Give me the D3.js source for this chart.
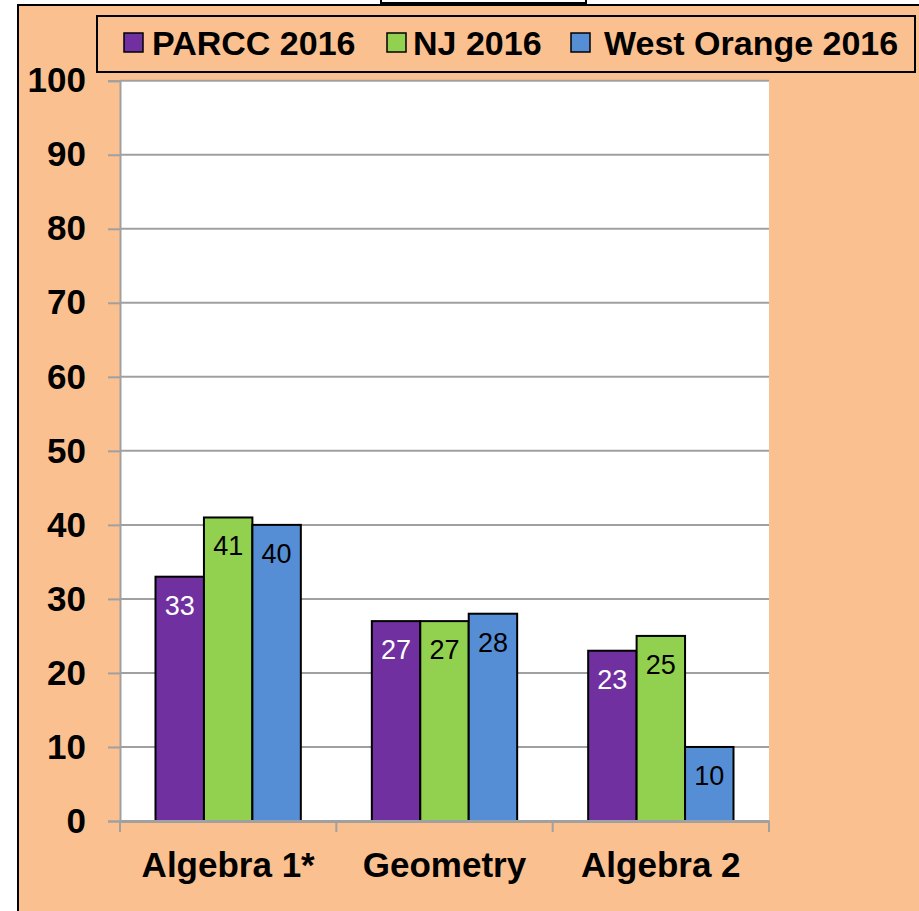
<!DOCTYPE html>
<html>
<head>
<meta charset="utf-8">
<script src="https://cdn.jsdelivr.net/npm/d3@7"></script>
<style>
  body { margin: 0; background: #fff; }
  svg text { font-family: "Liberation Sans", Arial, sans-serif; }
</style>
</head>
<body>
<svg id="chart" width="919" height="911"></svg>
<script>
// chart values
var categories = ["Algebra 1*", "Geometry", "Algebra 2"];
var seriesNames = ["PARCC 2016", "NJ 2016", "West Orange 2016"];
var parcc = [33, 27, 23];
var nj = [41, 27, 25];
var westOrange = [40, 28, 10];
var yTicks = [0, 10, 20, 30, 40, 50, 60, 70, 80, 90, 100];

var colours = ["#7030A0", "#92D050", "#558ED5"];
var labelColours = ["#fff", "#000", "#000"];
var bg = "#FAC090";

var svg = d3.select("#chart"),
    plot = {left: 120, right: 769, top: 80.7, bottom: 821};

var seriesValues = [parcc, nj, westOrange];
var data = categories.map(function(c, i) {
  return {
    cat: c,
    values: seriesNames.map(function(s, j) {
      return {series: s, idx: j, value: seriesValues[j][i]};
    })
  };
});

var x = d3.scaleBand().domain(categories).range([plot.left, plot.right]),
    xs = d3.scaleBand().domain(seriesNames)
      .range([35.5, x.bandwidth() - 35.5]),
    y = d3.scaleLinear().domain([0, 100]).range([plot.bottom, plot.top]);

// background and outer frame
svg.append("rect")
    .attr("x", 18).attr("y", 5).attr("width", 910).attr("height", 920)
    .attr("fill", bg).attr("stroke", "#000").attr("stroke-width", 2);

// little white box cut off at the top
svg.append("rect")
    .attr("x", 381).attr("y", -10).attr("width", 205).attr("height", 13)
    .attr("fill", "#fff").attr("stroke", "#000").attr("stroke-width", 2);

// plot area
svg.append("rect")
    .attr("x", plot.left).attr("y", plot.top)
    .attr("width", plot.right - plot.left).attr("height", plot.bottom - plot.top)
    .attr("fill", "#fff");

// gridlines + y axis
var yAxis = svg.append("g")
    .attr("class", "axis axis--y")
    .attr("transform", "translate(" + plot.left + ",0)")
    .call(d3.axisLeft(y).tickValues(yTicks).tickSize(12).tickPadding(22));
yAxis.select(".domain").attr("stroke", "#A0A0A0").attr("stroke-width", 2);
yAxis.selectAll(".tick line").attr("stroke", "#A0A0A0").attr("stroke-width", 2);
yAxis.selectAll(".tick text")
    .attr("fill", "#000")
    .style("font-size", "35px")
    .style("font-weight", "bold");

svg.append("g")
    .attr("class", "grid")
  .selectAll("line")
    .data(yTicks.filter(function(t) { return t > 0; }))
  .enter().append("line")
    .attr("x1", plot.left).attr("x2", plot.right)
    .attr("y1", function(d) { return y(d); })
    .attr("y2", function(d) { return y(d); })
    .attr("stroke", "#A0A0A0").attr("stroke-width", 2);

// bars
var group = svg.selectAll(".cat")
    .data(data)
  .enter().append("g")
    .attr("class", "cat")
    .attr("transform", function(d) { return "translate(" + x(d.cat) + ",0)"; });

group.selectAll(".bar")
    .data(function(d) { return d.values; })
  .enter().append("rect")
    .attr("class", "bar")
    .attr("x", function(d) { return xs(d.series); })
    .attr("y", function(d) { return y(d.value); })
    .attr("width", xs.bandwidth())
    .attr("height", function(d) { return y(0) - y(d.value); })
    .attr("fill", function(d) { return colours[d.idx]; })
    .attr("stroke", "#000").attr("stroke-width", 2);

group.selectAll(".label")
    .data(function(d) { return d.values; })
  .enter().append("text")
    .attr("class", "label")
    .attr("x", function(d) { return xs(d.series) + xs.bandwidth() / 2; })
    .attr("y", function(d) { return y(d.value) + 38; })
    .attr("text-anchor", "middle")
    .style("font-size", "27px")
    .style("fill", function(d) { return labelColours[d.idx]; })
    .text(function(d) { return d.value; });

// x axis
var xAxis = svg.append("g")
    .attr("class", "axis axis--x")
    .attr("transform", "translate(0," + plot.bottom + ")")
    .call(d3.axisBottom(x).tickSize(0).tickPadding(0));
xAxis.select(".domain").attr("stroke", "#A0A0A0").attr("stroke-width", 3);
xAxis.selectAll(".tick text")
    .attr("y", 56)
    .attr("dy", 0)
    .attr("fill", "#000")
    .style("font-size", "35px")
    .style("font-weight", "bold");

xAxis.selectAll(".sep")
    .data(x.range().concat(categories.slice(1).map(function(c) { return x(c); })))
  .enter().append("line")
    .attr("class", "sep")
    .attr("x1", function(d) { return d; }).attr("x2", function(d) { return d; })
    .attr("y1", 0).attr("y2", 11)
    .attr("stroke", "#A0A0A0").attr("stroke-width", 2);

// legend
var legend = svg.append("g").attr("class", "legend");
legend.append("rect")
    .attr("x", 97).attr("y", 16).attr("width", 818).attr("height", 56)
    .attr("fill", bg).attr("stroke", "#000").attr("stroke-width", 2);

var legendX = [124, 387, 571];
var legendTextX = [28, 26, 33];
var item = legend.selectAll(".item")
    .data(seriesNames)
  .enter().append("g")
    .attr("class", "item")
    .attr("transform", function(d, i) { return "translate(" + legendX[i] + ",0)"; });
item.append("rect")
    .attr("x", 0).attr("y", 33).attr("width", 19).attr("height", 19)
    .attr("fill", function(d, i) { return colours[i]; })
    .attr("stroke", "#000").attr("stroke-width", 1.5);
item.append("text")
    .attr("x", function(d, i) { return legendTextX[i]; }).attr("y", 55)
    .style("font-size", "34px")
    .style("font-weight", "bold")
    .text(function(d) { return d; });
</script>
</body>
</html>
